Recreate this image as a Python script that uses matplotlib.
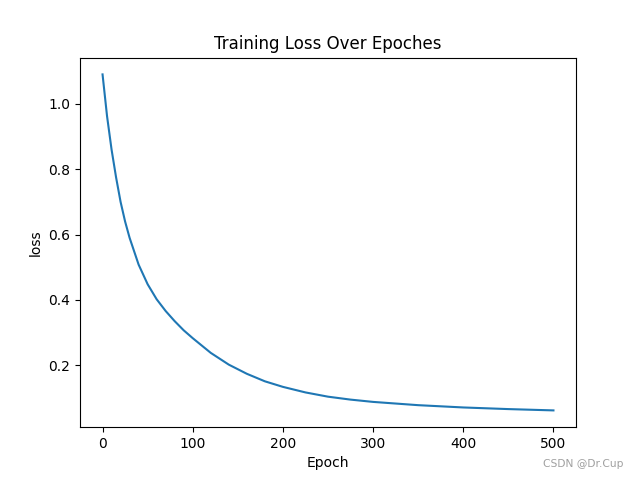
import matplotlib
matplotlib.use("Agg")
import matplotlib.pyplot as plt

epochs = [0, 5, 10, 15, 20, 25, 30, 40, 50, 60, 70, 80, 90, 100, 120, 140,
          160, 180, 200, 225, 250, 275, 300, 350, 400, 450, 500]
loss = [1.09, 0.962, 0.860, 0.775, 0.700, 0.640, 0.590, 0.508, 0.448, 0.402,
        0.366, 0.335, 0.307, 0.283, 0.238, 0.202, 0.174, 0.151, 0.134, 0.117,
        0.104, 0.095, 0.088, 0.078, 0.071, 0.066, 0.062]

fig, ax = plt.subplots(figsize=(6.4, 4.8), dpi=100)
ax.plot(epochs, loss)
ax.set_title("Training Loss Over Epoches")
ax.set_xlabel("Epoch")
ax.set_ylabel("loss")
fig.text(0.974, 0.033, "CSDN @Dr.Cup", ha="right", va="center", fontsize=7.7, color="#a0a0a0")
fig.savefig("out.png")
